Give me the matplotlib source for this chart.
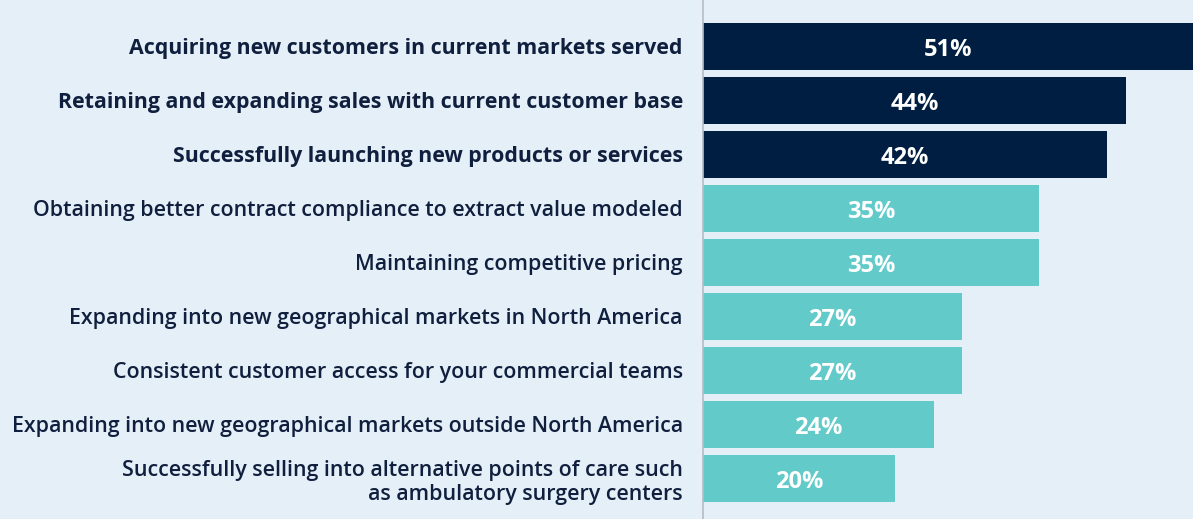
import matplotlib.pyplot as plt

categories = [
    "Acquiring new customers in current markets served",
    "Retaining and expanding sales with current customer base",
    "Successfully launching new products or services",
    "Obtaining better contract compliance to extract value modeled",
    "Maintaining competitive pricing",
    "Expanding into new geographical markets in North America",
    "Consistent customer access for your commercial teams",
    "Expanding into new geographical markets outside North America",
    "Successfully selling into alternative points of care such\nas ambulatory surgery centers",
]
values = [51, 44, 42, 35, 35, 27, 27, 24, 20]
top_n = 3  # highlighted in dark navy

navy = "#001e41"
teal = "#63caca"
bg = "#e5eff8"
text_col = "#0f1f3d"

plt.rcParams["font.family"] = ["Open Sans", "DejaVu Sans"]

fig = plt.figure(figsize=(11.93, 5.19), dpi=100, facecolor=bg)
ax = fig.add_axes([703 / 1193, 0, 490 / 1193, 1])
ax.set_facecolor(bg)

colors = [navy if i < top_n else teal for i in range(len(values))]
y = list(range(len(values)))
ax.barh(y, values, height=0.87, color=colors)

for yi, v in zip(y, values):
    ax.text(v / 2, yi + 0.07, f"{v}%", color="white", fontsize=17, fontweight="bold",
            ha="center", va="center")

ax.set_xlim(0, 51)
ax.set_ylim(8.75, -0.861)
ax.set_yticks(y)
ax.set_yticklabels(categories, fontsize=15.4, color=text_col, linespacing=1.2)
for i, lab in enumerate(ax.get_yticklabels()):
    lab.set_fontweight("bold" if i < top_n else "semibold")
ax.tick_params(axis="y", length=0, pad=14.5)
ax.set_xticks([])

for s in ["top", "right", "bottom"]:
    ax.spines[s].set_visible(False)
ax.spines["left"].set_color("#b8bcc2")
ax.spines["left"].set_linewidth(1.2)

plt.savefig("out.png", facecolor=bg)
